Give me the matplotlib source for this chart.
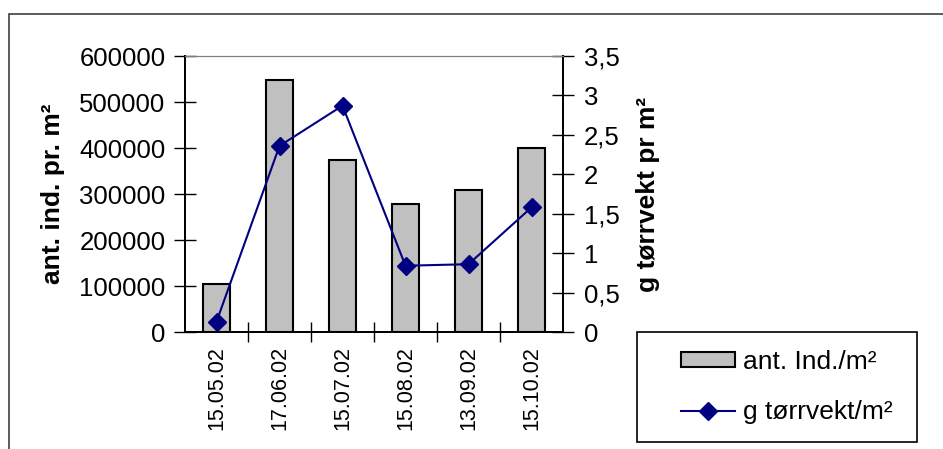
import matplotlib
matplotlib.use("Agg")
import matplotlib.pyplot as plt
from matplotlib.patches import Rectangle
from matplotlib.ticker import FuncFormatter, MultipleLocator

# Sampling dates and measured values
dates = ["15.05.02", "17.06.02", "15.07.02", "15.08.02", "13.09.02", "15.10.02"]
individuals = [104000, 548000, 375000, 279000, 309000, 400000]   # ant. Ind./m²
dry_weight = [0.13, 2.36, 2.87, 0.84, 0.86, 1.58]                # g tørrvekt/m²

plt.rcParams["font.family"] = ["Liberation Sans", "DejaVu Sans"]

W, H = 943, 449
fig = plt.figure(figsize=(W / 100, H / 100), dpi=100)

# outer chart-area border (runs off the right and bottom edges)
fig.patches.append(Rectangle((9 / W, -0.05), 1.0, 1 - 14 / H + 0.05,
                             transform=fig.transFigure, fill=False,
                             edgecolor="#404040", linewidth=1.2))

ax = fig.add_axes([185 / W, (H - 332) / H, 378 / W, 276 / H])
ax2 = ax.twinx()

x = list(range(len(dates)))
ax.bar(x, individuals, width=0.42, color="#C0C0C0", edgecolor="black",
       linewidth=1.5, label="ant. Ind./m²", zorder=2)
ax2.plot(x, dry_weight, color="#000080", linewidth=1.5, marker="D",
         markersize=9, label="g tørrvekt/m²", zorder=3)

ax.set_xlim(-0.5, len(dates) - 0.5)
ax.set_ylim(0, 600000)
ax2.set_ylim(0, 3.5)
ax.yaxis.set_major_locator(MultipleLocator(100000))
ax2.yaxis.set_major_locator(MultipleLocator(0.5))
ax2.yaxis.set_major_formatter(FuncFormatter(
    lambda v, p: (f"{v:g}").replace(".", ",")))

# category ticks sit between the bars, labels at bar centres
ax.set_xticks([i + 0.5 for i in x[:-1]])
ax.set_xticks(x, minor=True)
ax.set_xticklabels(dates, minor=True, rotation=90, fontsize=15.5)
ax.tick_params(axis="x", which="minor", length=0, pad=10)
ax.tick_params(axis="x", which="major", direction="inout", length=14,
               width=1, labelbottom=False)
ax.tick_params(axis="y", direction="inout", length=16, width=1,
               labelsize=18.5, pad=6)
ax2.tick_params(axis="y", direction="inout", length=16, width=1,
                labelsize=18.5, pad=7)

for a in (ax, ax2):
    a.spines["top"].set_color("#808080")
    for s in ("left", "right", "bottom"):
        a.spines[s].set_linewidth(1.3)
        a.spines[s].set_color("black")
    a.patch.set_visible(False)

ax.set_ylabel("ant. ind. pr. m²", fontsize=19, fontweight="bold", labelpad=10)
ax2.set_ylabel("g tørrvekt pr m²", fontsize=19, fontweight="bold", labelpad=12)

# legend box in the lower right corner
fig.patches.append(Rectangle((637 / W, (H - 442) / H), 280 / W, 110 / H,
                             transform=fig.transFigure, fill=False,
                             edgecolor="black", linewidth=1.2))
h1, l1 = ax.get_legend_handles_labels()
h2, l2 = ax2.get_legend_handles_labels()
fig.legend(h1 + h2, l1 + l2, loc="center",
           bbox_to_anchor=((637 + 150) / W, (H - 387) / H),
           frameon=False, fontsize=19, handlelength=2.05, handleheight=0.55,
           labelspacing=1.0, handletextpad=0.3)

fig.savefig("out.png", dpi=100)
